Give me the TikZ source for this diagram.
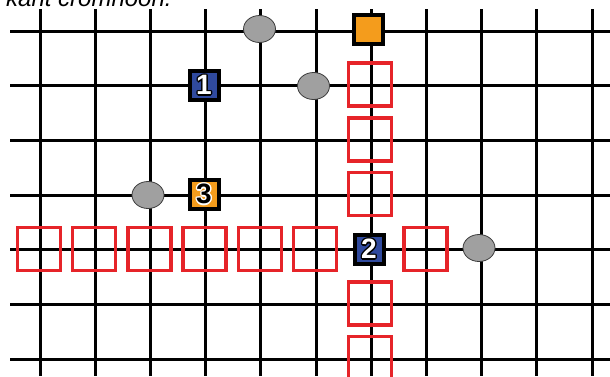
\documentclass[tikz,border=0pt]{standalone}
\usepackage{fontspec}
\setmainfont{Liberation Sans}
\usetikzlibrary{shapes.geometric}
\definecolor{sqblue}{RGB}{48,74,158}
\definecolor{sqorange}{RGB}{244,156,28}
\definecolor{dotgray}{RGB}{160,160,160}
\definecolor{dotedge}{RGB}{60,60,60}
\definecolor{redline}{RGB}{230,36,41}
\newcommand\ofsbox[3]{\rlap{\kern#1\smash{\raisebox{#2}{#3}}}}
\newcommand\outlinetext[3]{{\color{#1}%
  \ofsbox{1.4pt}{0pt}{#3}\ofsbox{-1.4pt}{0pt}{#3}\ofsbox{0pt}{1.4pt}{#3}\ofsbox{0pt}{-1.4pt}{#3}%
  \ofsbox{1pt}{1pt}{#3}\ofsbox{-1pt}{1pt}{#3}\ofsbox{1pt}{-1pt}{#3}\ofsbox{-1pt}{-1pt}{#3}}%
  {\color{#2}#3}}
\begin{document}
\begin{tikzpicture}[x=1pt,y=-1pt,
  gridline/.style={line width=3pt, black},
  redsq/.style={draw=redline, line width=3.5pt, minimum size=43pt, inner sep=0pt, shape=rectangle},
  numsq/.style={draw=black, line width=4pt, minimum size=29pt, inner sep=0pt, shape=rectangle,
    font=\bfseries\fontsize{28}{28}\selectfont},
  graydot/.style={ellipse, fill=dotgray, draw=dotedge, line width=0.8pt, minimum width=32pt, minimum height=27pt, inner sep=0pt}]
\useasboundingbox (0,0) rectangle (610,376);
\clip (0,0) rectangle (610,376);
\fill[white] (0,0) rectangle (610,376);
% title (partly cut off at the top)
\node[anchor=base west, inner sep=0pt, font=\itshape\fontsize{24}{24}\selectfont] (title) at (6,6) {kant cromnoon.};
% grid
\foreach \i in {0,...,10} \draw[gridline] (40+55.2*\i,9) -- (40+55.2*\i,376);
\foreach \j in {0,...,6} \draw[gridline] (10,31+54.7*\j) -- (610,31+54.7*\j);
% red squares: column
\foreach \k/\yy in {0/85.7,1/140.4,2/195.1,3/304.5,4/359.2}
  \node[redsq] (c\k) at (370.2,\yy-1) {};
% red squares: row
\foreach \k/\xx in {0/40,1/95.2,2/150.4,3/205.6,4/260.8,5/316,6/426.4}
  \node[redsq] (r\k) at (\xx-1,248.8) {};
% gray dots
\node[graydot] (d1) at (259.5,29) {};
\node[graydot] (d2) at (313.5,86) {};
\node[graydot] (d3) at (148,195) {};
\node[graydot] (d4) at (479,248) {};
% numbered squares
\node[numsq, fill=sqorange] (top) at (368,29) {};
\node[numsq, fill=sqblue] (n1) at (204,85) {\outlinetext{black}{white}{1}};
\node[numsq, fill=sqorange] (n3) at (204,194) {\outlinetext{white}{black}{3}};
\node[numsq, fill=sqblue] (n2) at (369,249) {\outlinetext{black}{white}{2}};
\end{tikzpicture}
\end{document}
